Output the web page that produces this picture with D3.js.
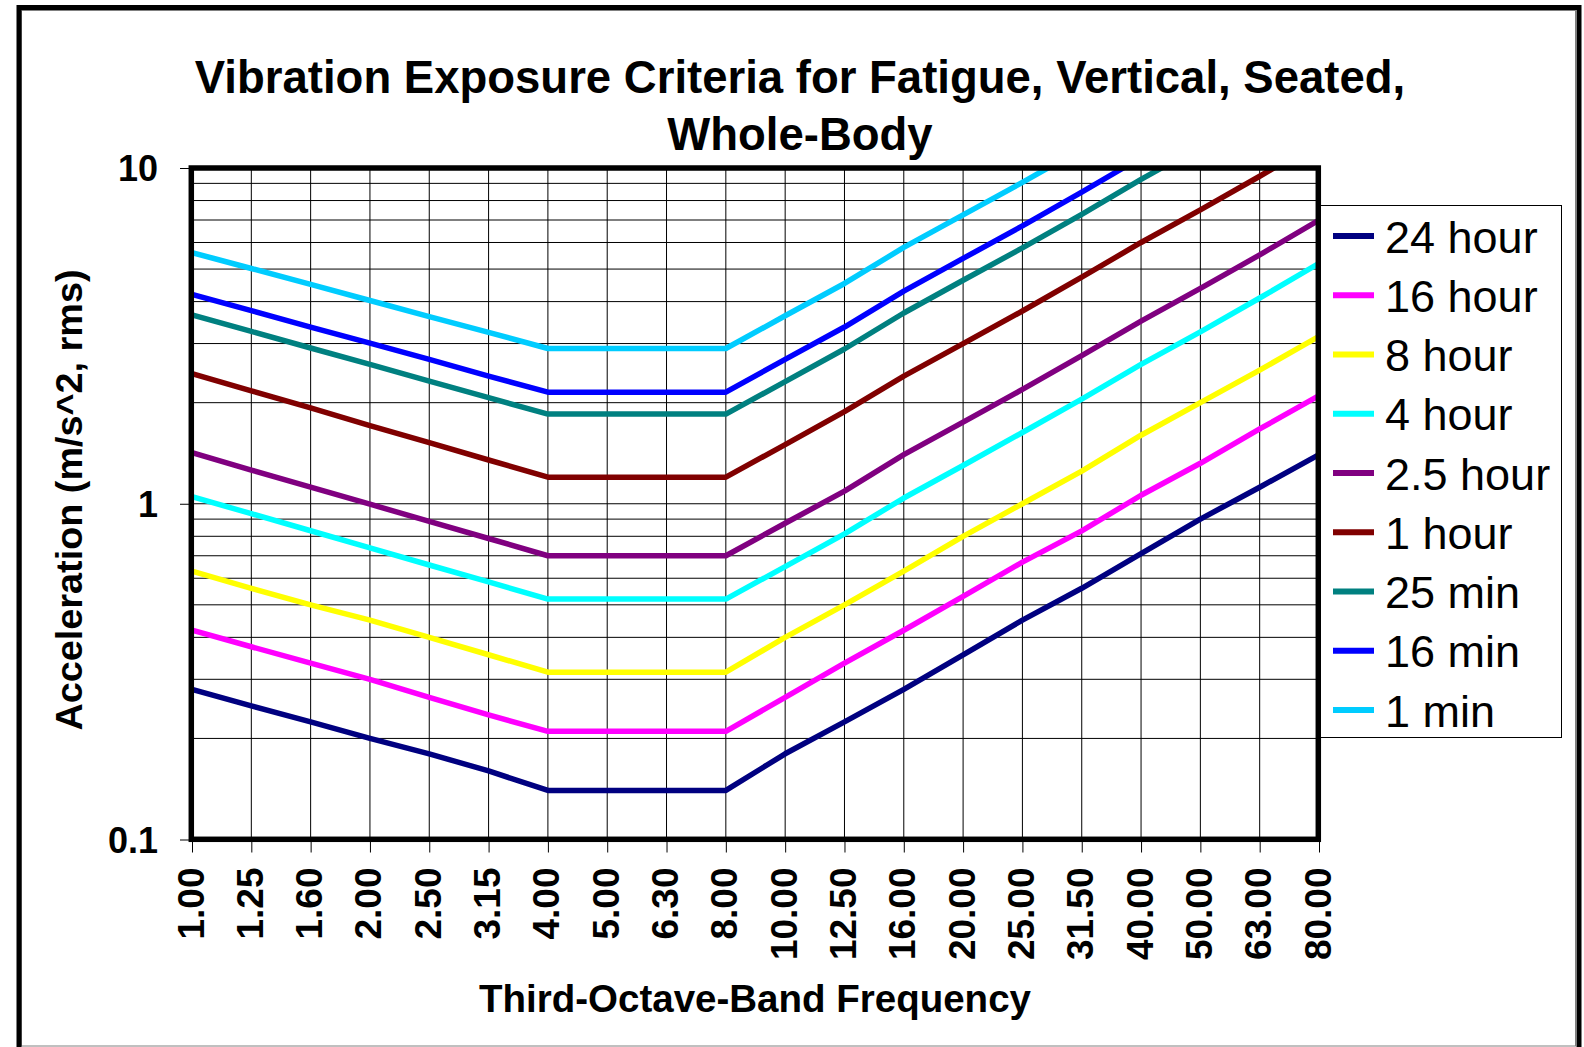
<!DOCTYPE html>
<html><head><meta charset="utf-8">
<script src="https://cdn.jsdelivr.net/npm/d3@7"></script>
<style>
html,body{margin:0;padding:0;background:#fff;}
svg{display:block;}
text{font-family:"Liberation Sans",Arial,Helvetica,sans-serif;fill:#000;}
</style>
</head><body>
<svg id="chart" width="1584" height="1047"></svg>
<script>
// ---- data ----
const categories = ["1.00","1.25","1.60","2.00","2.50","3.15","4.00","5.00","6.30","8.00","10.00","12.50","16.00","20.00","25.00","31.50","40.00","50.00","63.00","80.00"];
const seriesNames = ["24 hour","16 hour","8 hour","4 hour","2.5 hour","1 hour","25 min","16 min","1 min"];
const seriesColors = ["#000080","#FF00FF","#FFFF00","#00FFFF","#800080","#800000","#008080","#0000FF","#00CCFF"];
const values24h  = [0.28,0.25,0.224,0.20,0.18,0.16,0.14,0.14,0.14,0.14,0.18,0.224,0.28,0.355,0.45,0.56,0.71,0.90,1.12,1.40];
const values16h  = [0.42,0.375,0.335,0.30,0.265,0.235,0.21,0.21,0.21,0.21,0.265,0.335,0.42,0.53,0.67,0.83,1.06,1.32,1.67,2.10];
const values8h   = [0.63,0.56,0.50,0.45,0.40,0.355,0.315,0.315,0.315,0.315,0.40,0.50,0.63,0.80,1.00,1.25,1.60,2.00,2.50,3.15];
const values4h   = [1.05,0.934,0.831,0.739,0.657,0.585,0.52,0.52,0.52,0.52,0.65,0.813,1.04,1.30,1.63,2.05,2.60,3.25,4.10,5.20];
const values2_5h = [1.42,1.26,1.12,0.997,0.886,0.788,0.70,0.70,0.70,0.70,0.875,1.09,1.40,1.75,2.19,2.76,3.50,4.38,5.51,7.00];
const values1h   = [2.44,2.17,1.93,1.71,1.52,1.35,1.20,1.20,1.20,1.20,1.50,1.88,2.40,3.00,3.75,4.73,6.00,7.50,9.45,12.0];
const values25m  = [3.65,3.26,2.91,2.60,2.32,2.07,1.85,1.85,1.85,1.85,2.31,2.89,3.70,4.63,5.78,7.28,9.25,11.6,14.6,18.5];
const values16m  = [4.20,3.76,3.36,3.01,2.69,2.40,2.15,2.15,2.15,2.15,2.69,3.36,4.30,5.38,6.72,8.47,10.75,13.4,16.9,21.5];
const values1m   = [5.60,5.02,4.50,4.03,3.61,3.24,2.90,2.90,2.90,2.90,3.63,4.53,5.80,7.25,9.06,11.4,14.5,18.1,22.8,29.0];
const seriesValues = [values24h,values16h,values8h,values4h,values2_5h,values1h,values25m,values16m,values1m];
const yTickValues = [0.1, 1, 10];
const yTickLabels = ["0.1", "1", "10"];
const yGridValues = [0.2,0.3,0.4,0.5,0.6,0.7,0.8,0.9,1,2,3,4,5,6,7,8,9];
const titleLines = ["Vibration Exposure Criteria for Fatigue, Vertical, Seated,", "Whole-Body"];
const xAxisTitle = "Third-Octave-Band Frequency";
const yAxisTitle = "Acceleration (m/s^2, rms)";

// ---- layout ----
const svg = d3.select("#chart");
const L = 192, R = 1319, T = 168, B = 839.5;

const x = d3.scalePoint().domain(categories).range([L, R]);
const y = d3.scaleLog().domain([0.1, 10]).range([B, T]);

svg.append("rect").attr("width",1584).attr("height",1047).attr("fill","#fff");

// outer frame
svg.append("rect").attr("x",21.5).attr("y",10.5).attr("width",1554).attr("height",1035.5)
  .attr("fill","none").attr("stroke","#808080").attr("stroke-width",1);
svg.append("path").attr("d","M19,1050 V7.5 H1579 V1050")
  .attr("fill","none").attr("stroke","#000").attr("stroke-width",5);

// title
svg.append("text").attr("x",800).attr("y",93).attr("text-anchor","middle")
  .style("font-size","45.5px").style("font-weight","bold")
  .selectAll("tspan").data(titleLines).join("tspan")
  .attr("x",800).attr("dy",(d,i)=> i===0 ? 0 : 56.5).text(d=>d);

// gridlines
const grid = svg.append("g");
grid.selectAll("line.h").data(yGridValues).join("line").attr("class","h")
  .attr("x1",L).attr("x2",R).attr("y1",d=>y(d)).attr("y2",d=>y(d))
  .attr("stroke","#000").attr("stroke-width",1);
grid.selectAll("line.v").data(categories).join("line").attr("class","v")
  .attr("x1",d=>x(d)).attr("x2",d=>x(d)).attr("y1",T).attr("y2",B)
  .attr("stroke","#000").attr("stroke-width",1);

// clip
svg.append("clipPath").attr("id","plotclip").append("rect")
  .attr("x",L).attr("y",T).attr("width",R-L).attr("height",B-T);

// series
const line = d3.line().x((d,i)=>x(categories[i])).y(d=>y(d));
svg.append("g").attr("clip-path","url(#plotclip)")
  .selectAll("path").data(seriesValues).join("path")
  .attr("d",d=>line(d)).attr("fill","none")
  .attr("stroke",(d,i)=>seriesColors[i]).attr("stroke-width",5.5)
  .attr("stroke-linejoin","round");

// y axis ticks + labels
const yAxis = d3.axisLeft(y).tickValues(yTickValues).tickFormat((d,i)=>yTickLabels[i])
  .tickSizeInner(11).tickSizeOuter(0).tickPadding(22);
const gy = svg.append("g").attr("transform",`translate(${L-1},0)`).call(yAxis);
gy.select(".domain").remove();
gy.selectAll("line").attr("stroke","#000");
gy.selectAll("text").style("font-size","36px").style("font-weight","bold").attr("dy","0.36em");

// x axis ticks + labels
const xAxis = d3.axisBottom(x).tickSizeInner(13).tickSizeOuter(0).tickPadding(0);
const gx = svg.append("g").attr("transform",`translate(0,${B})`).call(xAxis);
gx.select(".domain").remove();
gx.selectAll("line").attr("stroke","#000");
gx.selectAll("text")
  .style("font-size","37px").style("font-weight","bold")
  .attr("text-anchor","end").attr("y",0).attr("dy",0)
  .attr("transform","translate(11,28) rotate(-90)");

// plot frame
svg.append("rect").attr("x",191.3).attr("y",168).attr("width",1127).attr("height",671.3)
  .attr("fill","none").attr("stroke","#000").attr("stroke-width",5.5);

// axis titles
svg.append("text").attr("x",755).attr("y",1012).attr("text-anchor","middle")
  .style("font-size","38.5px").style("font-weight","bold").text(xAxisTitle);
svg.append("text").attr("transform","translate(81.5,500) rotate(-90)").attr("text-anchor","middle")
  .style("font-size","37.8px").style("font-weight","bold").text(yAxisTitle);

// legend
const lg = svg.append("g");
lg.append("rect").attr("x",1320.5).attr("y",205.5).attr("width",241).attr("height",532)
  .attr("fill","#fff").attr("stroke","#000").attr("stroke-width",1);
const items = lg.selectAll("g.item").data(seriesNames).join("g").attr("class","item")
  .attr("transform",(d,i)=>`translate(0,${236 + i*59.25})`);
items.append("line").attr("x1",1333).attr("x2",1374).attr("y1",0).attr("y2",0)
  .attr("stroke",(d,i)=>seriesColors[i]).attr("stroke-width",6);
items.append("text").attr("x",1385).attr("y",16.5)
  .style("font-size","45px").text(d=>d);
</script>
</body></html>
